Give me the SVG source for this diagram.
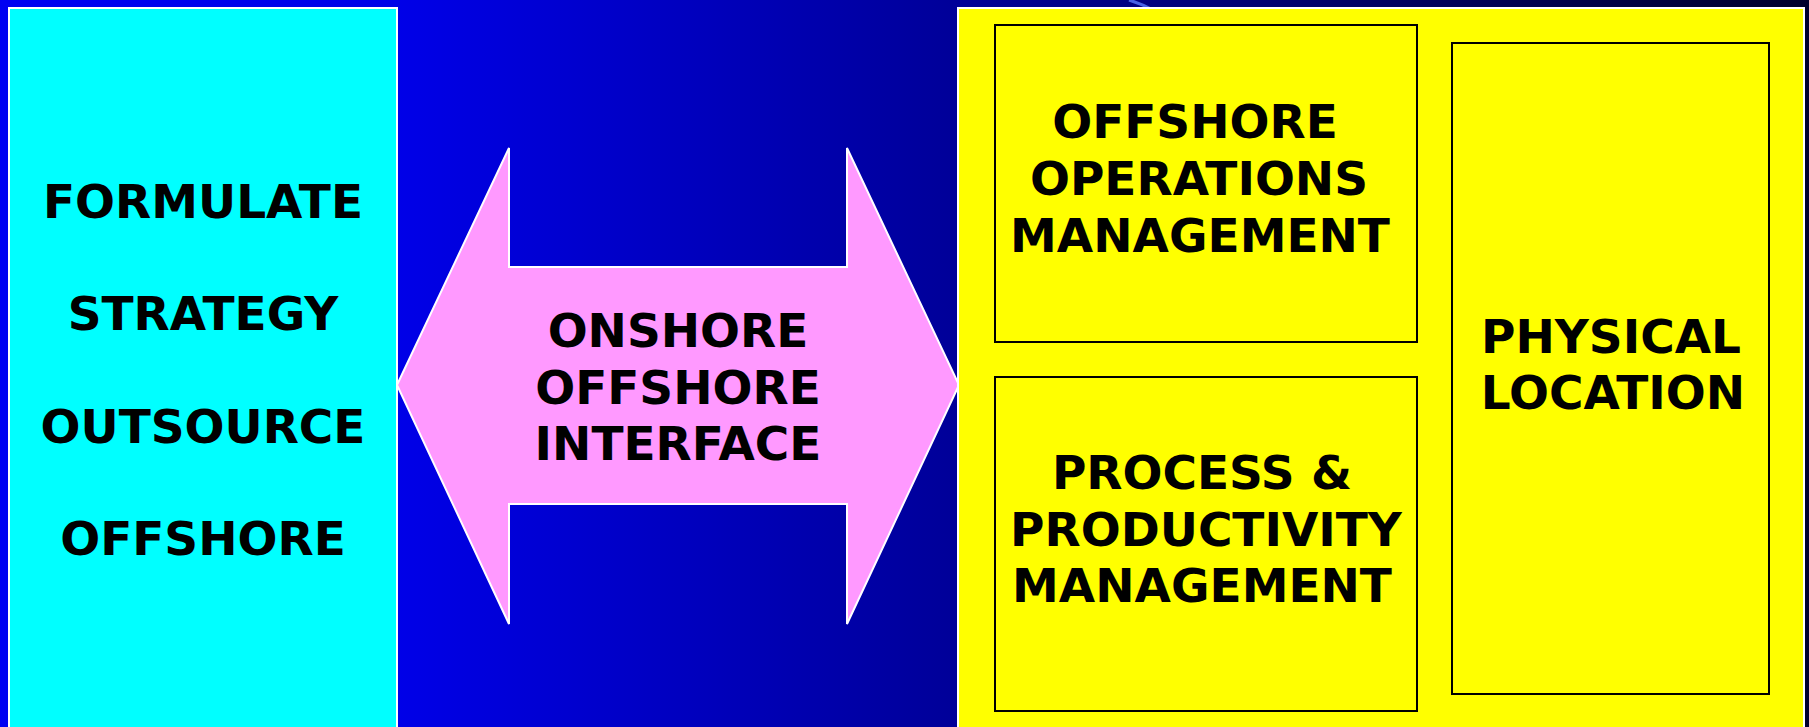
<svg xmlns="http://www.w3.org/2000/svg" width="1809" height="727" viewBox="0 0 1809 727">
<defs>
<linearGradient id="bg" x1="0" y1="0" x2="1809" y2="0" gradientUnits="userSpaceOnUse">
<stop offset="0" stop-color="#0000f2"/>
<stop offset="0.22" stop-color="#0000e8"/>
<stop offset="0.53" stop-color="#000098"/>
<stop offset="1" stop-color="#00002c"/>
</linearGradient>
<style>
.t{font-family:"DejaVu Sans","Verdana",sans-serif;font-weight:bold;font-size:47px;fill:#000;text-anchor:middle}
.panel{stroke:#ffffff;stroke-width:2}
.box{fill:#ffff00;stroke:#000;stroke-width:2}
</style>
</defs>
<rect x="0" y="0" width="1809" height="727" fill="url(#bg)"/>
<path d="M1129,0 Q1142,4 1153,10" fill="none" stroke="#5a7aff" stroke-width="3" opacity="0.8"/>
<g id="strategy">
<rect class="panel" x="9" y="8" width="388" height="730" fill="#00ffff"/>
<text class="t" x="203" y="218">FORMULATE</text>
<text class="t" x="203" y="330">STRATEGY</text>
<text class="t" x="203" y="443">OUTSOURCE</text>
<text class="t" x="203" y="555">OFFSHORE</text>
</g>
<g id="connectors">
<g id="interface">
<polygon points="397,385 509,148 509,267 847,267 847,148 959,385 847,624 847,504 509,504 509,624" fill="#ff99ff" stroke="#ffffff" stroke-width="2" stroke-linejoin="miter"/>
<text class="t" x="678" y="347">ONSHORE</text>
<text class="t" x="678" y="404">OFFSHORE</text>
<text class="t" x="678" y="460">INTERFACE</text>
</g>
</g>
<g id="offshore-panel">
<rect class="panel" x="958" y="8" width="846" height="730" fill="#ffff00"/>
</g>
<g id="operations">
<rect class="box" x="995" y="25" width="422" height="317"/>
<text class="t" x="1195" y="138">OFFSHORE</text>
<text class="t" x="1199" y="195">OPERATIONS</text>
<text class="t" x="1200" y="252">MANAGEMENT</text>
</g>
<g id="process">
<rect class="box" x="995" y="377" width="422" height="334"/>
<text class="t" x="1202" y="489">PROCESS &amp;</text>
<text class="t" x="1206" y="546">PRODUCTIVITY</text>
<text class="t" x="1202" y="602">MANAGEMENT</text>
</g>
<g id="location">
<rect class="box" x="1452" y="43" width="317" height="651"/>
<text class="t" x="1611" y="353">PHYSICAL</text>
<text class="t" x="1613" y="409">LOCATION</text>
</g>
</svg>
